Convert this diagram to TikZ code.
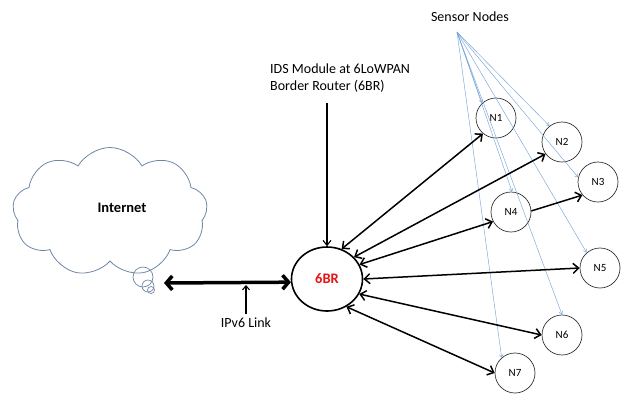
\documentclass[tikz,border=0pt]{standalone}
\usepackage{fontspec}
\setmainfont{Carlito}
\usetikzlibrary{arrows.meta,shapes.geometric,shapes.symbols}
\definecolor{cloudc}{RGB}{110,135,165}
\definecolor{bluel}{RGB}{120,165,215}
\definecolor{redt}{RGB}{230,20,20}
\begin{document}
\begin{tikzpicture}[x=1bp,y=-1bp,
  txt/.style={font=\fontsize{14bp}{17bp}\selectfont, inner sep=0pt},
  sensor/.style={circle, draw=black!80, line width=0.7bp, minimum size=40bp, inner sep=0pt, font=\fontsize{11bp}{13bp}\selectfont},
  link/.style={line width=1.5bp, {Straight Barb[length=5.5bp,width=10bp]}-{Straight Barb[length=5.5bp,width=10bp]}},
  onelink/.style={line width=1.5bp, -{Straight Barb[length=5.5bp,width=10bp]}},
  bluelink/.style={draw=bluel, line width=0.45bp, -{Straight Barb[length=3bp,width=4bp]}},
  bubble/.style={circle, draw=cloudc, line width=0.7bp, inner sep=0pt}
]
\useasboundingbox (0,0) rectangle (624,393);

% Internet cloud
\node[cloud, draw=cloudc, line width=0.8bp, cloud puffs=9, cloud puff arc=120, aspect=1.5,
      minimum width=195bp, minimum height=129bp, inner sep=0pt] (cloud) at (110,212) {};
\node[txt, font=\fontsize{14.5bp}{17bp}\selectfont\bfseries] (inet) at (122,208) {Internet};
\node[bubble, minimum size=20bp] (b1) at (143,277) {};
\node[bubble, minimum size=12bp] (b2) at (148,286) {};
\node[bubble, minimum size=7bp] (b3) at (151,290) {};

% 6BR
\node[ellipse, draw, line width=1.6bp, minimum width=71bp, minimum height=64bp, inner sep=0pt,
      font=\fontsize{14.5bp}{17bp}\selectfont\bfseries, text=redt] (br) at (327,279) {6BR};

% sensor nodes
\node[sensor] (n1) at (496,118) {N1};
\node[sensor] (n2) at (562,142) {N2};
\node[sensor] (n3) at (598,182) {N3};
\node[sensor] (n4) at (511,212) {N4};
\node[sensor] (n5) at (600,268) {N5};
\node[sensor] (n6) at (562,335) {N6};
\node[sensor] (n7) at (515,373) {N7};

% labels
\node[txt] (sensl) at (470,17) {Sensor Nodes};
\node[txt, align=left, anchor=north west] (ids) at (270,64) {IDS Module at 6LoWPAN\\Border Router (6BR)};
\node[txt] (ipv6) at (246,323) {IPv6 Link};

\coordinate (apex) at (457,32);
\coordinate (idsA) at (327,103);
\coordinate (inetA) at (164,283);
\coordinate (ipv6A) at (246,314);
\coordinate (ipv6B) at (246,285);

% blue lines
\draw[bluelink] (apex) -- (n1.133);
\draw[bluelink] (apex) -- (n2.128);
\draw[bluelink] (apex) -- (n3.167);
\draw[bluelink] (apex) -- (n4.87);
\draw[bluelink] (apex) -- (n5.131);
\draw[bluelink] (apex) -- (n6.90);
\draw[bluelink] (apex) -- (n7.131);

% black links
\draw[link] (br.64) -- (n1.230);
\draw[link] (br.39) -- (n2.216);
\draw[link] (br.24) -- (n4.208);
\draw[onelink] (n4.3) -- (n3.220);
\draw[link] (br.0) -- (n5.180);
\draw[link] (br.-25) -- (n6.180);
\draw[link] (br.-55) -- (n7.180);

% IDS arrow
\draw[line width=1.1bp, -{Straight Barb[length=5bp,width=8bp]}] (idsA) -- (br.north);

% Internet link
\draw[line width=3.5bp, {Straight Barb[length=6bp,width=14bp]}-{Straight Barb[length=6bp,width=14bp]}] (inetA) -- (br.185);
\draw[line width=1.1bp, -{Straight Barb[length=4bp,width=7bp]}] (ipv6A) -- (ipv6B);
\end{tikzpicture}
\end{document}
